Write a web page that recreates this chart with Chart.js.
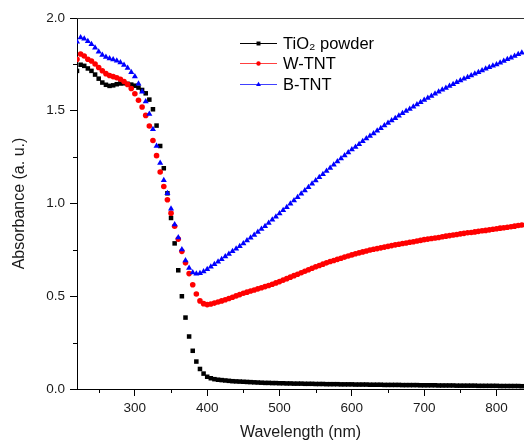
<!DOCTYPE html>
<html>
<head>
<meta charset="utf-8">
<script src="https://cdn.jsdelivr.net/npm/chart.js@4/dist/chart.umd.min.js"></script>
<style>
  html, body { margin: 0; padding: 0; background: #fff; }
  #wrap { width: 524px; height: 441px; position: relative; }
</style>
</head>
<body>
<div id="wrap"><canvas id="c" width="524" height="441"></canvas></div>
<script>
const wavelengths = [
  220,225,230,235,240,245,250,255,260,265,270,275,280,285,290,295,300,305,310,315,
  320,325,330,335,340,345,350,355,360,365,370,375,380,385,390,395,400,405,410,415,
  420,425,430,435,440,445,450,455,460,465,470,475,480,485,490,495,500,505,510,515,
  520,525,530,535,540,545,550,555,560,565,570,575,580,585,590,595,600,605,610,615,
  620,625,630,635,640,645,650,655,660,665,670,675,680,685,690,695,700,705,710,715,
  720,725,730,735,740,745,750,755,760,765,770,775,780,785,790,795,800,805,810,815,
  820,825,830,835
];
const tio2Powder = [
  1.715,1.748,1.742,1.728,1.715,1.695,1.673,1.652,1.640,1.634,1.637,1.643,1.647,1.648,1.645,1.641,1.635,1.625,1.612,1.594,
  1.560,1.508,1.420,1.310,1.190,1.055,0.922,0.785,0.640,0.500,0.385,0.283,0.206,0.148,0.108,0.083,0.066,0.058,0.053,0.050,
  0.048,0.046,0.044,0.042,0.041,0.040,0.039,0.038,0.037,0.036,0.035,0.034,0.033,0.033,0.032,0.032,0.031,0.031,0.030,0.030,
  0.029,0.029,0.029,0.028,0.028,0.028,0.027,0.027,0.027,0.026,0.026,0.026,0.026,0.025,0.025,0.025,0.025,0.024,0.024,0.024,
  0.024,0.023,0.023,0.023,0.023,0.022,0.022,0.022,0.022,0.022,0.021,0.021,0.021,0.021,0.021,0.020,0.020,0.020,0.020,0.020,
  0.019,0.019,0.019,0.019,0.019,0.018,0.018,0.018,0.018,0.018,0.018,0.017,0.017,0.017,0.017,0.017,0.017,0.016,0.016,0.016,
  0.016,0.016,0.016,0.015
];
const wTNT = [
  1.777,1.806,1.795,1.778,1.768,1.752,1.733,1.716,1.700,1.690,1.684,1.678,1.670,1.658,1.642,1.620,1.592,1.557,1.520,1.475,
  1.418,1.340,1.258,1.170,1.092,1.020,0.948,0.877,0.808,0.742,0.680,0.622,0.562,0.512,0.475,0.460,0.455,0.458,0.463,0.469,
  0.475,0.481,0.488,0.495,0.502,0.509,0.516,0.522,0.528,0.534,0.540,0.546,0.552,0.558,0.565,0.572,0.579,0.587,0.595,0.603,
  0.611,0.619,0.627,0.635,0.643,0.651,0.659,0.666,0.673,0.680,0.687,0.693,0.699,0.705,0.711,0.717,0.723,0.729,0.734,0.739,
  0.744,0.749,0.753,0.757,0.761,0.765,0.769,0.773,0.777,0.780,0.784,0.787,0.791,0.794,0.798,0.801,0.805,0.808,0.811,0.814,
  0.817,0.821,0.824,0.827,0.830,0.833,0.836,0.839,0.842,0.844,0.847,0.850,0.853,0.855,0.858,0.861,0.864,0.867,0.869,0.872,
  0.875,0.878,0.881,0.884
];
const bTNT = [
  1.872,1.895,1.888,1.874,1.858,1.840,1.818,1.800,1.790,1.781,1.776,1.770,1.760,1.746,1.730,1.708,1.684,1.645,1.603,1.550,
  1.482,1.400,1.310,1.218,1.125,1.055,0.972,0.887,0.817,0.752,0.693,0.652,0.628,0.621,0.624,0.634,0.646,0.659,0.672,0.686,
  0.700,0.714,0.728,0.742,0.756,0.770,0.785,0.800,0.815,0.830,0.846,0.862,0.878,0.895,0.912,0.929,0.946,0.963,0.980,0.998,
  1.016,1.034,1.052,1.070,1.088,1.106,1.124,1.141,1.158,1.175,1.192,1.209,1.226,1.243,1.259,1.275,1.291,1.305,1.320,1.335,
  1.350,1.364,1.378,1.392,1.406,1.420,1.434,1.447,1.460,1.473,1.486,1.498,1.510,1.522,1.534,1.546,1.558,1.569,1.580,1.591,
  1.602,1.613,1.623,1.633,1.643,1.653,1.663,1.672,1.681,1.690,1.699,1.708,1.717,1.726,1.734,1.742,1.750,1.759,1.768,1.777,
  1.786,1.795,1.804,1.813
];
const seriesNames = ['TiO\u2082 powder', 'W-TNT', 'B-TNT'];
const xMajorTicks = [300, 400, 500, 600, 700, 800];
const xMinorTicks = [250, 350, 450, 550, 650, 750];
const yMajorTicks = [0.0, 0.5, 1.0, 1.5, 2.0];
const yMinorTicks = [0.25, 0.75, 1.25, 1.75];
const xAxisTitle = 'Wavelength (nm)';
const yAxisTitle = 'Absorbance (a. u.)';

const FONT = "'Liberation Sans', Arial, Helvetica, sans-serif";
const toPts = (ys) => wavelengths.map((x, i) => ({ x: x, y: ys[i] }));

const styles = [
  { color: '#000000', pointStyle: 'rect', radius: 3.2, legendRadius: 2.8, order: 2 },
  { color: '#ff0000', pointStyle: 'circle', radius: 2.8, legendRadius: 2.2, order: 1 },
  { color: '#0000ff', pointStyle: 'triangle', radius: 3.5, legendRadius: 2.8, order: 0 }
];
const seriesData = [tio2Powder, wTNT, bTNT];

const datasets = seriesData.map((ys, i) => ({
  label: seriesNames[i],
  data: toPts(ys),
  showLine: false,
  pointStyle: styles[i].pointStyle,
  pointRadius: styles[i].radius,
  pointBackgroundColor: styles[i].color,
  pointBorderColor: styles[i].color,
  pointBorderWidth: 0,
  backgroundColor: styles[i].color,
  borderColor: styles[i].color,
  order: styles[i].order
}));

const extrasPlugin = {
  id: 'extras',
  afterDraw(chart) {
    const ctx = chart.ctx;
    const area = chart.chartArea;
    const xs = chart.scales.x, ys = chart.scales.y;
    ctx.save();
    // top frame line
    ctx.strokeStyle = '#333333';
    ctx.lineWidth = 1;
    ctx.beginPath();
    const ty = Math.round(area.top) + 0.5;
    ctx.moveTo(area.left, ty);
    ctx.lineTo(chart.width, ty);
    ctx.stroke();
    // minor ticks
    ctx.strokeStyle = '#000';
    ctx.beginPath();
    xMinorTicks.forEach(v => {
      const px = Math.round(xs.getPixelForValue(v)) + 0.5;
      ctx.moveTo(px, area.bottom);
      ctx.lineTo(px, area.bottom + 4);
    });
    yMinorTicks.forEach(v => {
      const py = Math.round(ys.getPixelForValue(v)) + 0.5;
      ctx.moveTo(area.left, py);
      ctx.lineTo(area.left - 4, py);
    });
    ctx.stroke();
    // legend
    const lx0 = area.left + 163, lx1 = area.left + 200, tx = area.left + 206;
    const rows = [area.top + 24.5, area.top + 45, area.top + 65.5];
    ctx.font = "16.5px " + FONT;
    ctx.textBaseline = 'middle';
    ctx.textAlign = 'left';
    seriesNames.forEach((name, i) => {
      const y = Math.round(rows[i]) + 0.5;
      ctx.strokeStyle = styles[i].color;
      ctx.globalAlpha = i === 0 ? 1 : 0.75;
      ctx.lineWidth = 1.2;
      ctx.beginPath();
      ctx.moveTo(lx0, y);
      ctx.lineTo(lx1, y);
      ctx.stroke();
      ctx.globalAlpha = 1;
      ctx.fillStyle = styles[i].color;
      Chart.helpers.drawPoint(ctx, {
        pointStyle: styles[i].pointStyle,
        radius: styles[i].legendRadius,
        rotation: 0,
        borderWidth: 0
      }, (lx0 + lx1) / 2, y);
      ctx.fillStyle = '#000';
      ctx.fillText(name, tx, y + 1);
    });
    ctx.restore();
  }
};

new Chart(document.getElementById('c'), {
  type: 'scatter',
  data: { datasets },
  options: {
    responsive: false,
    animation: false,
    devicePixelRatio: 1,
    layout: { autoPadding: false, padding: { top: 18, right: 0, left: 0, bottom: 0 } },
    plugins: { legend: { display: false }, tooltip: { enabled: false } },
    scales: {
      x: {
        type: 'linear',
        min: 220,
        max: 838,
        afterFit(scale) { scale.height = 52; scale.paddingLeft = 0; scale.paddingRight = 0; },
        afterBuildTicks(scale) { scale.ticks = xMajorTicks.map(v => ({ value: v })); },
        grid: { drawOnChartArea: false, drawTicks: true, tickLength: 7, color: '#000', tickColor: '#000' },
        border: { display: true, color: '#000', width: 1 },
        ticks: {
          autoSkip: false, maxRotation: 0, padding: 4, color: '#1a1a1a',
          font: { family: FONT, size: 13.5 },
          callback: v => String(v)
        },
        title: {
          display: true, text: xAxisTitle, color: '#1a1a1a',
          font: { family: FONT, size: 16, lineHeight: 1.1 },
          padding: { top: 0, bottom: 0 }
        }
      },
      y: {
        type: 'linear',
        min: 0,
        max: 2,
        afterFit(scale) { scale.width = 77; scale.paddingTop = 0; scale.paddingBottom = 0; },
        afterBuildTicks(scale) { scale.ticks = yMajorTicks.map(v => ({ value: v })); },
        grid: { drawOnChartArea: false, drawTicks: true, tickLength: 7, color: '#000', tickColor: '#000' },
        border: { display: true, color: '#000', width: 1 },
        ticks: {
          autoSkip: false, padding: 5, color: '#1a1a1a',
          font: { family: FONT, size: 13.5 },
          callback: v => Number(v).toFixed(1)
        },
        title: {
          display: true, text: yAxisTitle, color: '#1a1a1a',
          font: { family: FONT, size: 16, lineHeight: 1.1 },
          padding: { top: 11, bottom: 0 }
        }
      }
    }
  },
  plugins: [extrasPlugin]
});
</script>
</body>
</html>
